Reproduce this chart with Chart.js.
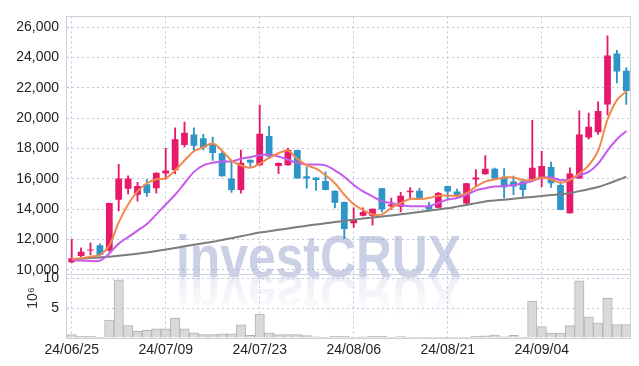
<!DOCTYPE html>
<html>
<head>
<meta charset="utf-8">
<script src="https://cdn.jsdelivr.net/npm/chart.js@4.4.1/dist/chart.umd.min.js"></script>
<style>
    html, body { margin: 0; padding: 0; background: #ffffff; }
    #wrap { position: relative; width: 639px; height: 366px; }
</style>
</head>
<body>
<div id="wrap"><canvas id="stock-chart"></canvas></div>
<script>
// DATA
// ---------------------------------------------------
const dates = [
    '24/06/25', '24/06/26', '24/06/27', '24/06/28', '24/07/01', '24/07/02', '24/07/03', '24/07/04', '24/07/05', '24/07/08',
    '24/07/09', '24/07/10', '24/07/11', '24/07/12', '24/07/15', '24/07/16', '24/07/17', '24/07/18', '24/07/19', '24/07/22',
    '24/07/23', '24/07/24', '24/07/25', '24/07/26', '24/07/29', '24/07/30', '24/07/31', '24/08/01', '24/08/02', '24/08/05',
    '24/08/06', '24/08/07', '24/08/08', '24/08/09', '24/08/12', '24/08/13', '24/08/14', '24/08/16', '24/08/19', '24/08/20',
    '24/08/21', '24/08/22', '24/08/23', '24/08/26', '24/08/27', '24/08/28', '24/08/29', '24/08/30', '24/09/02', '24/09/03',
    '24/09/04', '24/09/05', '24/09/06', '24/09/09', '24/09/10', '24/09/11', '24/09/12', '24/09/13', '24/09/19', '24/09/20'
];
const openPrices = [
    10500, 10900, 11260, 11610, 11260, 14620, 15330, 14940, 15630, 15370,
    16340, 16550, 18230, 18920, 18660, 18280, 17680, 16020, 15260, 17250,
    16880, 18810, 16840, 16880, 17890, 16170, 16080, 15850, 15200, 14470,
    13070, 13550, 13550, 15370, 14190, 14150, 15100, 15200, 14230, 14080,
    15520, 15160, 14360, 15950, 16300, 16660, 16130, 15810, 15810, 15950,
    16020, 16770, 15590, 13720, 16020, 18710, 19070, 20900, 24260, 23120
];
const highPrices = [
    12000, 11440, 11780, 11700, 14400, 16940, 16190, 15760, 15950, 16390,
    18000, 19350, 19740, 19350, 18920, 18750, 17890, 17200, 17890, 17250,
    20860, 19460, 17050, 18020, 17890, 16770, 16080, 16450, 15200, 14470,
    14080, 14080, 14020, 15370, 14730, 15100, 15420, 15370, 14450, 15100,
    15520, 15310, 15700, 16600, 17520, 16700, 16660, 16170, 15910, 19850,
    17810, 17100, 15800, 16710, 20470, 20320, 21070, 25420, 24470, 23330
];
const lowPrices = [
    10450, 10860, 10970, 10900, 11200, 13870, 14990, 14520, 14840, 15050,
    15950, 16340, 18100, 17850, 17890, 17200, 16170, 15100, 15050, 16810,
    16880, 17460, 16340, 16880, 16020, 15370, 15230, 15260, 14080, 12040,
    12790, 13550, 12940, 13810, 13970, 13810, 14730, 14730, 13970, 14080,
    14620, 14840, 14360, 15480, 16300, 16020, 14730, 14940, 14840, 15800,
    15480, 15420, 13940, 13720, 16020, 18600, 18920, 20210, 22320, 20900
];
const closePrices = [
    10750, 11180, 11330, 10970, 14400, 16020, 16020, 15520, 15050, 16390,
    16540, 18600, 19030, 18170, 18060, 17700, 16170, 15260, 17050, 17050,
    18970, 17460, 17030, 17910, 16020, 16020, 15910, 15260, 14410, 12680,
    13330, 13810, 14020, 13970, 14300, 14880, 15200, 14730, 13970, 15050,
    15160, 14840, 15700, 16080, 16660, 16020, 15440, 15480, 15260, 16730,
    16840, 15700, 13940, 16340, 18920, 19420, 20470, 24130, 23070, 21780
];
// volume in millions of shares
const volumes = [
    0.56, 0.28, 0.28, 0.10, 3.00, 9.77, 2.09, 1.10, 1.27, 1.54,
    1.54, 3.35, 1.54, 0.88, 0.56, 0.56, 0.72, 0.72, 2.20, 0.44,
    4.00, 0.88, 0.56, 0.56, 0.56, 0.40, 0.20, 0.10, 0.30, 0.30,
    0.10, 0.20, 0.30, 0.30, 0.10, 0.25, 0.10, 0.10, 0.10, 0.10,
    0.10, 0.10, 0.10, 0.30, 0.35, 0.50, 0.20, 0.45, 0.10, 6.20,
    1.92, 0.82, 0.82, 2.09, 9.60, 3.57, 2.53, 6.64, 2.25, 2.25
];
// moving averages
const maShort = [
    10710, 10750, 10860, 10970, 11610, 13120, 14300, 15160, 15700, 15970,
    16020, 16550, 17200, 17810, 18060, 18320, 17850, 17200, 16880, 16730,
    16990, 17370, 17680, 17850, 17310, 16880, 16660, 16230, 15700, 14940,
    14320, 13940, 13650, 13650, 14080, 14400, 14660, 14660, 14730, 14880,
    14880, 14880, 15050, 15480, 15810, 15950, 16080, 16080, 15910, 15910,
    16080, 15950, 15740, 15910, 16340, 16880, 17850, 19890, 21180, 21760
];
const maMid = [
    10650, 10600, 10580, 10600, 11070, 11720, 12150, 12580, 13010, 13650,
    14300, 14940, 15700, 16450, 16880, 17050, 17140, 17140, 17310, 17420,
    17550, 17590, 17460, 17250, 17030, 16940, 16940, 16880, 16550, 16130,
    15590, 15160, 14840, 14520, 14400, 14260, 14190, 14190, 14190, 14400,
    14620, 14730, 14940, 15230, 15370, 15480, 15520, 15590, 15700, 15850,
    16050, 16080, 15910, 15950, 16230, 16450, 16990, 17850, 18600, 19140
];
const maLong = [
    10700, 10730, 10770, 10810, 10860, 10920, 10990, 11060, 11140, 11230,
    11330, 11430, 11540, 11640, 11740, 11840, 11960, 12080, 12200, 12330,
    12450, 12540, 12630, 12720, 12810, 12900, 12980, 13060, 13140, 13220,
    13300, 13370, 13440, 13510, 13580, 13650, 13730, 13810, 13890, 13970,
    14050, 14160, 14270, 14390, 14500, 14560, 14620, 14680, 14740, 14800,
    14860, 14920, 14980, 15050, 15180, 15310, 15450, 15660, 15890, 16130
];
const priceTicks = [ 10000, 12000, 14000, 16000, 18000, 20000, 22000, 24000, 26000 ];
const volumeTicks = [ 0, 5, 10 ];

// STYLE
// ---------------------------------------------------
const UP = '#e6196a';
const DOWN = '#2e95c7';
const GRID = 'rgba(170, 176, 210, 0.75)';
const FRAME = '#cfd0da';
const FONT = { family: "'Liberation Sans', Arial, sans-serif", size: 14 };

const candleColor = function ( ctx ) {
    const i = ctx.dataIndex;
    return closePrices[ i ] >= openPrices[ i ] ? UP : DOWN;
};

// WATERMARK + FRAME PLUGIN
// ---------------------------------------------------
const decor = {
    id: 'decor',
    beforeDraw( chart ) {
        const ctx = chart.ctx;
        ctx.save();
        ctx.font = 'bold 60px "Liberation Sans", Arial, sans-serif';
        ctx.textBaseline = 'alphabetic';
        ctx.translate( 176, 277 );
        ctx.scale( 0.83, 1 );
        ctx.fillStyle = 'rgba(184, 193, 222, 0.75)';
        ctx.fillText( 'investCRUX', 0, 0 );
        // mirrored reflection below the baseline
        ctx.scale( 1, -1 );
        const g = ctx.createLinearGradient( 0, 0, 0, -40 );
        g.addColorStop( 0, 'rgba(205, 210, 230, 0.38)' );
        g.addColorStop( 1, 'rgba(205, 210, 230, 0)' );
        ctx.fillStyle = g;
        ctx.fillText( 'investCRUX', 0, 2 );
        ctx.restore();
    },
    afterDraw( chart ) {
        const ctx = chart.ctx;
        const y = chart.scales.y;
        const yv = chart.scales.yv;
        const a = chart.chartArea;
        ctx.save();
        ctx.strokeStyle = FRAME;
        ctx.lineWidth = 1;
        ctx.strokeRect( Math.round( a.left ) - 0.5, Math.round( y.top ) + 0.5, Math.round( a.right - a.left ), Math.round( y.bottom - y.top ) );
        ctx.strokeRect( Math.round( a.left ) - 0.5, Math.round( yv.top ) + 0.5, Math.round( a.right - a.left ), Math.round( yv.bottom - yv.top ) );
        // unit label of the volume axis
        ctx.fillStyle = '#333';
        ctx.font = '14px ' + FONT.family;
        ctx.textAlign = 'center';
        ctx.textBaseline = 'middle';
        ctx.translate( 33, 298 );
        ctx.rotate( -Math.PI / 2 );
        ctx.fillText( '10⁶', 0, 0 );
        ctx.restore();
    }
};

// CHART
// ---------------------------------------------------
const stockChart = new Chart( document.querySelector( '#stock-chart' ), {
    type: 'bar',
    data: {
        labels: dates,
        datasets: [
            {
                type: 'line', label: 'MA short', data: maShort, yAxisID: 'y',
                borderColor: '#f08a4c', borderWidth: 2, pointRadius: 0, tension: 0.35, order: 0
            },
            {
                type: 'line', label: 'MA mid', data: maMid, yAxisID: 'y',
                borderColor: '#c75ae9', borderWidth: 2, pointRadius: 0, tension: 0.35, order: 0
            },
            {
                type: 'line', label: 'MA long', data: maLong, yAxisID: 'y',
                borderColor: '#7c7c7c', borderWidth: 2, pointRadius: 0, tension: 0.35, order: 0
            },
            {
                label: 'body', yAxisID: 'y', grouped: false, order: 1,
                data: openPrices.map( ( o, i ) => [ o, closePrices[ i ] ] ),
                backgroundColor: candleColor, borderWidth: 0,
                barPercentage: 0.72, categoryPercentage: 1, minBarLength: 1
            },
            {
                label: 'wick', yAxisID: 'y', grouped: false, order: 2,
                data: lowPrices.map( ( l, i ) => [ l, highPrices[ i ] ] ),
                backgroundColor: candleColor, borderWidth: 0, barThickness: 1.2
            },
            {
                label: 'volume', yAxisID: 'yv', grouped: false, order: 3,
                data: volumes,
                backgroundColor: '#d9d9d9', borderColor: '#b3b3b3', borderWidth: 1,
                barPercentage: 1, categoryPercentage: 1
            }
        ]
    },
    options: {
        responsive: true,
        maintainAspectRatio: false,
        animation: false,
        layout: { padding: { top: 9, right: 8, left: 0, bottom: 0 } },
        plugins: { legend: { display: false }, tooltip: { enabled: false } },
        scales: {
            x: {
                offset: true,
                grid: {
                    offset: false, drawTicks: false,
                    color: ( ctx ) => ctx.index % 10 === 0 ? GRID : 'rgba(0,0,0,0)'
                },
                border: { display: false, dash: [ 2, 3 ] },
                ticks: {
                    autoSkip: false, maxRotation: 0, padding: 4, color: '#222', font: FONT,
                    callback: ( v, i ) => i % 10 === 0 ? dates[ i ] : ''
                },
                afterFit: ( s ) => { s.height = 28; }
            },
            yv: {
                position: 'left', stack: 'panes', stackWeight: 65,
                min: 0, max: 10.7,
                afterBuildTicks: ( s ) => { s.ticks = volumeTicks.map( v => ( { value: v } ) ); },
                grid: { color: GRID, drawTicks: false },
                border: { display: false, dash: [ 2, 3 ] },
                ticks: {
                    autoSkip: false, padding: 8, color: '#222', font: FONT,
                    callback: ( v ) => v === 0 ? '' : String( v )
                },
                afterFit: ( s ) => { s.width = 67; }
            },
            y: {
                position: 'left', stack: 'panes', stackWeight: 263,
                min: 9700, max: 26700,
                afterBuildTicks: ( s ) => { s.ticks = priceTicks.map( v => ( { value: v } ) ); },
                grid: { color: GRID, drawTicks: false },
                border: { display: false, dash: [ 2, 3 ] },
                ticks: {
                    autoSkip: false, padding: 8, color: '#222', font: FONT,
                    callback: ( v ) => Number( v ).toLocaleString( 'en-US' )
                },
                afterFit: ( s ) => { s.width = 67; }
            }
        }
    },
    plugins: [ decor ]
});
</script>
</body>
</html>
